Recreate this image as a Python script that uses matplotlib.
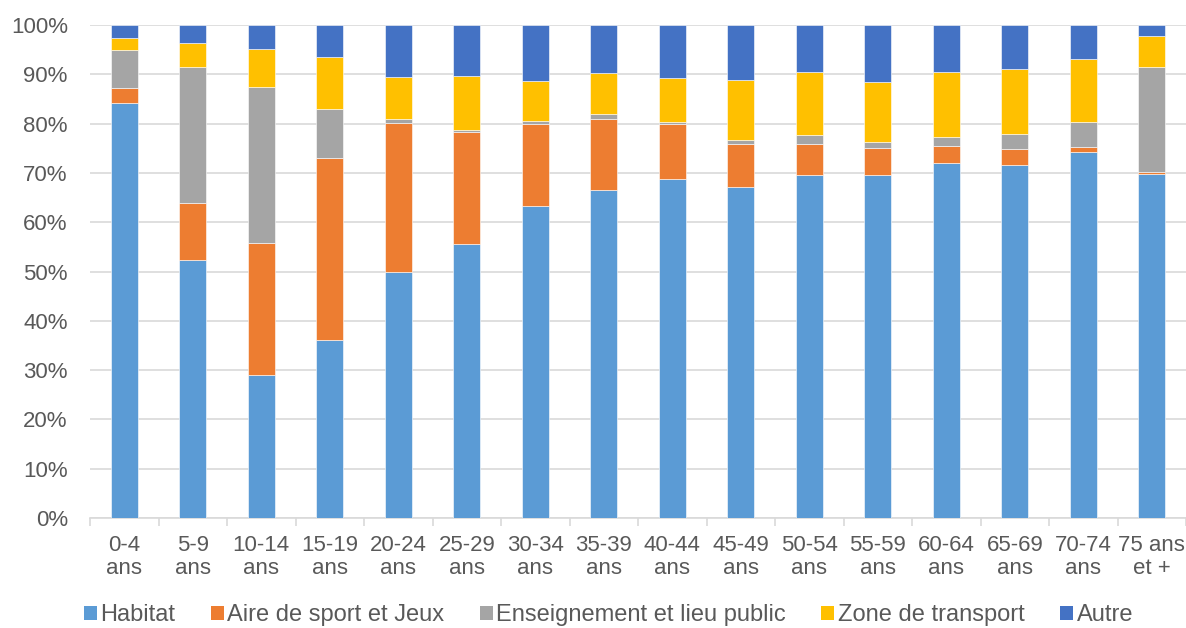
import matplotlib
matplotlib.use("Agg")
from matplotlib import pyplot as plt
from matplotlib.patches import Patch
import numpy as np

plt.rcParams['font.family'] = ['Liberation Sans', 'DejaVu Sans']

# age groups
categories = ["0-4\nans", "5-9\nans", "10-14\nans", "15-19\nans", "20-24\nans", "25-29\nans",
              "30-34\nans", "35-39\nans", "40-44\nans", "45-49\nans", "50-54\nans", "55-59\nans",
              "60-64\nans", "65-69\nans", "70-74\nans", "75 ans\net +"]

# shares in % per place type
habitat = [84.2, 52.3, 29.1, 36.2, 50.0, 55.6, 63.3, 66.5, 68.7, 67.1, 69.5, 69.6, 72.1, 71.7, 74.2, 69.8]
aire_sport = [3.0, 11.5, 26.7, 36.8, 30.1, 22.6, 16.6, 14.4, 11.2, 8.7, 6.3, 5.4, 3.3, 3.2, 1.1, 0.4]
enseignement = [7.8, 27.6, 31.6, 10.0, 0.9, 0.6, 0.6, 1.0, 0.4, 0.9, 1.9, 1.3, 1.8, 3.0, 5.1, 21.3]
zone_transport = [2.4, 4.9, 7.7, 10.6, 8.4, 10.9, 8.1, 8.4, 8.9, 12.2, 12.8, 12.2, 13.2, 13.2, 12.7, 6.3]
autre = [2.6, 3.7, 4.9, 6.4, 10.6, 10.3, 11.4, 9.7, 10.8, 11.1, 9.5, 11.5, 9.6, 8.9, 6.9, 2.2]

series = [("Habitat", habitat, "#5B9BD5"),
          ("Aire de sport et Jeux", aire_sport, "#ED7D31"),
          ("Enseignement et lieu public", enseignement, "#A5A5A5"),
          ("Zone de transport", zone_transport, "#FFC000"),
          ("Autre", autre, "#4472C4")]

fig = plt.figure(figsize=(11.86, 6.28), dpi=100)
ax = fig.add_axes([90 / 1186, 110 / 628, 1096 / 1186, 493 / 628])

x = np.arange(len(categories))
bottom = np.zeros(len(categories))
handles = []
for name, vals, col in series:
    vals = np.array(vals)
    ax.bar(x, vals, 0.4, bottom=bottom, color=col, edgecolor="white", linewidth=0.4, zorder=3)
    bottom += vals
    handles.append(Patch(facecolor=col, label=name))

ax.set_xlim(-0.5, len(categories) - 0.5)
ax.set_ylim(0, 100)
ax.set_yticks(np.arange(0, 101, 10))
ax.set_yticklabels([f"{v}%" for v in range(0, 101, 10)])
ax.yaxis.grid(True, color="#d9d9d9", linewidth=1.2, zorder=0)
ax.tick_params(axis="y", length=0, labelsize=16, labelcolor="#595959", pad=16)

ax.set_xticks(x)
ax.set_xticklabels(categories, linespacing=1.15)
ax.tick_params(axis="x", which="major", length=0, labelsize=16, labelcolor="#595959", pad=12)
ax.set_xticks(np.arange(-0.5, len(categories), 1), minor=True)
ax.tick_params(axis="x", which="minor", length=6, color="#d9d9d9", width=1.2)

for s in ["top", "right", "left"]:
    ax.spines[s].set_visible(False)
ax.spines["bottom"].set_color("#d9d9d9")
ax.spines["bottom"].set_linewidth(1.2)

fig.legend(handles=handles, loc="center", bbox_to_anchor=(0.513, 0.02), ncol=5,
           frameon=False, fontsize=17, handlelength=0.55, handleheight=0.55,
           handletextpad=0.15, columnspacing=1.5, labelcolor="#595959")

fig.savefig("out.png", dpi=100)
